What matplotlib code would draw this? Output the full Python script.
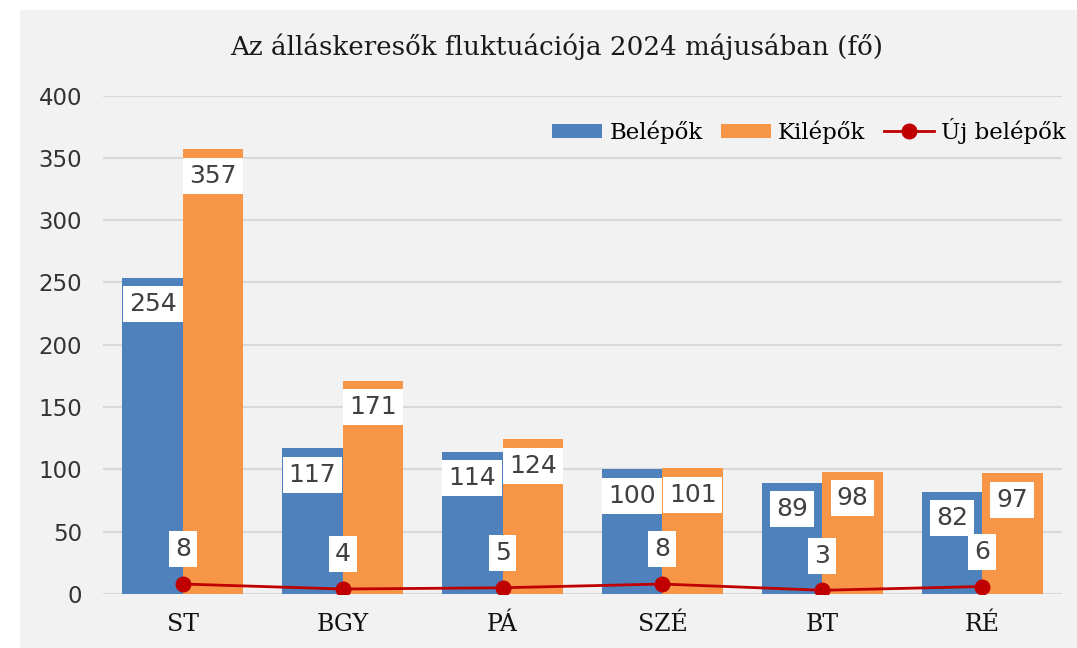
import matplotlib
matplotlib.use("Agg")
import matplotlib.pyplot as plt
from matplotlib.patches import Rectangle, Patch
from matplotlib.lines import Line2D
import numpy as np

categories = ["ST", "BGY", "PÁ", "SZÉ", "BT", "RÉ"]
belepok = [254, 117, 114, 100, 89, 82]
kilepok = [357, 171, 124, 101, 98, 97]
uj_belepok = [8, 4, 5, 8, 3, 6]
yticks = [0, 50, 100, 150, 200, 250, 300, 350, 400]
title = "Az álláskeresők fluktuációja 2024 májusában (fő)"

BLUE = "#4F81BD"
ORANGE = "#F79646"
RED = "#C00000"
GRID = "#D9D9D9"
BG = "#F2F2F2"

W, H = 1077, 648
fig = plt.figure(figsize=(W / 100, H / 100), dpi=100)
fig.patch.set_facecolor("white")
fig.patches.append(Rectangle((20 / W, 0), 1 - 20 / W, 1 - 10 / H,
                             transform=fig.transFigure, facecolor=BG,
                             edgecolor="none", zorder=-10))

ax = fig.add_axes([103 / W, 1 - 594 / H, (1062 - 103) / W, (594 - 95.6) / H])
ax.patch.set_alpha(0)

x = np.arange(len(categories))
bw = 0.378
ax.bar(x - bw / 2, belepok, width=bw, color=BLUE, zorder=2)
ax.bar(x + bw / 2, kilepok, width=bw, color=ORANGE, zorder=2)
ax.plot(x, uj_belepok, color=RED, lw=2, marker="o", ms=10.5, zorder=4)

ax.set_xlim(-0.5, len(categories) - 0.5)
ax.set_ylim(0, 400)
ax.set_yticks(yticks)
ax.set_yticklabels([str(t) for t in yticks], fontfamily="DejaVu Sans",
                   fontsize=16.5, color="#333333")
ax.set_xticks(x)
ax.set_xticklabels(categories, fontfamily="DejaVu Serif", fontsize=17,
                   color="#111111")
ax.tick_params(axis="both", length=0)
ax.tick_params(axis="y", pad=15)
ax.tick_params(axis="x", pad=14)
for s in ax.spines.values():
    s.set_visible(False)
ax.yaxis.grid(True, color=GRID, lw=1.5, zorder=0)
ax.set_axisbelow(True)

lbl_kw = dict(textcoords="offset points", ha="center", va="center",
              fontfamily="DejaVu Sans", fontsize=18, color="#404040",
              bbox=dict(boxstyle="square,pad=0.24", fc="white", ec="none"),
              zorder=5)
for i in range(len(categories)):
    ax.annotate(str(belepok[i]), (x[i] - bw / 2, belepok[i]), xytext=(0, -19), **lbl_kw)
    ax.annotate(str(kilepok[i]), (x[i] + bw / 2, kilepok[i]), xytext=(0, -19), **lbl_kw)
    ax.annotate(str(uj_belepok[i]), (x[i], uj_belepok[i]), xytext=(0, 25), **lbl_kw)

fig.text(557 / W, 1 - 47 / H, title, ha="center", va="center",
         fontfamily="DejaVu Serif", fontsize=18.8, color="#1a1a1a")

handles = [Patch(facecolor=BLUE, edgecolor="none"),
           Patch(facecolor=ORANGE, edgecolor="none"),
           Line2D([], [], color=RED, lw=2, marker="o", ms=10.5)]
leg = fig.legend(handles, ["Belépők", "Kilépők", "Új belépők"],
                 loc="center left", bbox_to_anchor=(552 / W, 1 - 131 / H),
                 ncol=3, frameon=False, prop={"family": "DejaVu Serif", "size": 16.5},
                 handlelength=2.2, handleheight=0.6, handletextpad=0.3,
                 columnspacing=0.8, borderaxespad=0, borderpad=0)

fig.savefig("out.png", dpi=100)
